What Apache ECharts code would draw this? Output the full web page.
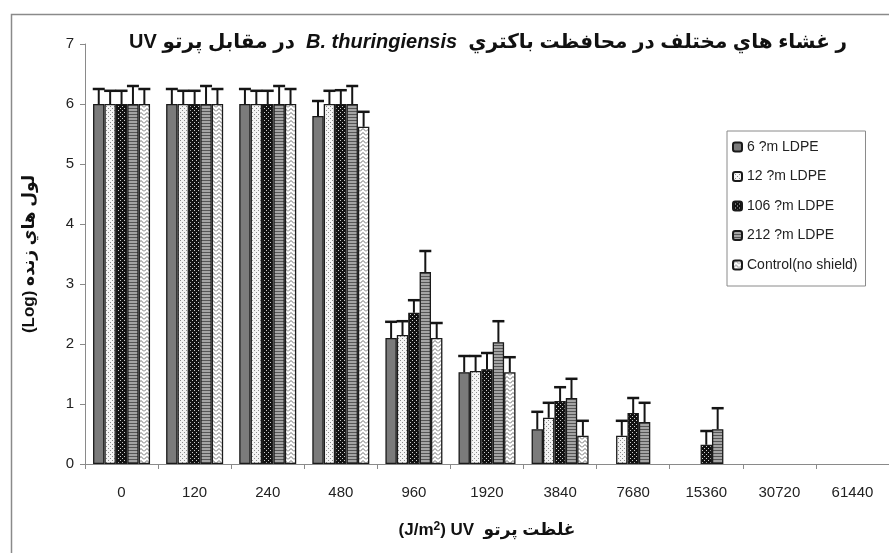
<!DOCTYPE html>
<html>
<head>
<meta charset="utf-8">
<script src="https://cdn.jsdelivr.net/npm/echarts@6/dist/echarts.min.js"></script>
<style>
  html, body { margin: 0; padding: 0; background: #fff; }
  #chart { width: 889px; height: 553px; }
</style>
</head>
<body>
<div id="chart"></div>
<script>
// doses (J/m2)
var categories = ['0', '120', '240', '480', '960', '1920', '3840', '7680', '15360', '30720', '61440'];
var seriesNames = ['6 ?m LDPE', '12 ?m LDPE', '106 ?m LDPE', '212 ?m LDPE', 'Control(no shield)'];

// log of living cells, one array per film
var ldpe6    = [6, 6, 6, 5.8, 2.1, 1.53, 0.58, null, null, null, null];
var ldpe12   = [6, 6, 6, 6, 2.15, 1.55, 0.77, 0.47, null, null, null];
var ldpe106  = [6, 6, 6, 6, 2.52, 1.58, 1.05, 0.85, 0.32, null, null];
var ldpe212  = [6, 6, 6, 6, 3.2, 2.03, 1.1, 0.7, 0.58, null, null];
var control  = [6, 6, 6, 5.62, 2.1, 1.53, 0.47, null, null, null, null];

// upper error bar sizes
var err6    = [0.25, 0.25, 0.25, 0.25, 0.27, 0.27, 0.29, null, null, null, null];
var err12   = [0.22, 0.22, 0.22, 0.22, 0.23, 0.25, 0.25, 0.25, null, null, null];
var err106  = [0.22, 0.22, 0.22, 0.23, 0.21, 0.27, 0.23, 0.25, 0.23, null, null];
var err212  = [0.3, 0.3, 0.3, 0.3, 0.35, 0.35, 0.32, 0.32, 0.35, null, null];
var errCtrl = [0.25, 0.25, 0.25, 0.25, 0.25, 0.25, 0.25, null, null, null, null];

var yTicks = [0, 1, 2, 3, 4, 5, 6, 7];

var values = [ldpe6, ldpe12, ldpe106, ldpe212, control];
var errors = [err6, err12, err106, err212, errCtrl];

var BAR_W = 11.4;

function makePattern(w, h, draw) {
    var c = document.createElement('canvas');
    c.width = w;
    c.height = h;
    var ctx = c.getContext('2d');
    draw(ctx);
    return { image: c, repeat: 'repeat' };
}

var fills = [
    '#7b7b7b',
    makePattern(4, 4, function (ctx) {
        ctx.fillStyle = '#f4f4f4';
        ctx.fillRect(0, 0, 4, 4);
        ctx.fillStyle = '#8c8c8c';
        ctx.fillRect(0, 0, 1, 1);
        ctx.fillRect(2, 2, 1, 1);
    }),
    makePattern(4, 4, function (ctx) {
        ctx.fillStyle = '#111';
        ctx.fillRect(0, 0, 4, 4);
        ctx.fillStyle = '#cfcfcf';
        ctx.fillRect(0, 0, 1, 1);
        ctx.fillRect(2, 2, 1, 1);
    }),
    makePattern(4, 3, function (ctx) {
        ctx.fillStyle = '#a4a4a4';
        ctx.fillRect(0, 0, 4, 3);
        ctx.fillStyle = '#555';
        ctx.fillRect(0, 0, 4, 1);
    }),
    makePattern(6, 4, function (ctx) {
        ctx.fillStyle = '#fff';
        ctx.fillRect(0, 0, 6, 4);
        ctx.strokeStyle = '#6f6f6f';
        ctx.lineWidth = 1;
        ctx.beginPath();
        ctx.moveTo(0, 3.5);
        ctx.lineTo(3, 0.5);
        ctx.lineTo(6, 3.5);
        ctx.stroke();
    })
];

var errData = [];
values.forEach(function (arr, s) {
    arr.forEach(function (v, i) {
        if (v != null && errors[s][i] != null) {
            errData.push([i, s, v, v + errors[s][i]]);
        }
    });
});

var series = seriesNames.map(function (name, s) {
    return {
        name: name,
        type: 'bar',
        barWidth: BAR_W,
        barGap: '0%',
        data: values[s],
        itemStyle: { color: fills[s], borderColor: '#1a1a1a', borderWidth: 1.3 }
    };
});

series.push({
    name: 'err',
    type: 'custom',
    z: 5,
    encode: { x: 0, y: [2, 3] },
    data: errData,
    renderItem: function (params, api) {
        var i = api.value(0), s = api.value(1);
        var lo = api.coord([i, api.value(2)]);
        var hi = api.coord([i, api.value(3)]);
        var x = lo[0] + (s - 2) * BAR_W;
        return {
            type: 'group',
            children: [
                { type: 'line', shape: { x1: x, y1: lo[1], x2: x, y2: hi[1] }, style: { stroke: '#151515', lineWidth: 2 } },
                { type: 'line', shape: { x1: x - 6, y1: hi[1], x2: x + 6, y2: hi[1] }, style: { stroke: '#151515', lineWidth: 2.5 } }
            ]
        };
    }
});

var font = 'Liberation Sans, Arial, DejaVu Sans, sans-serif';
var bold = { fontWeight: 'bold', color: '#111', fontFamily: font };

var option = {
    animation: false,
    backgroundColor: '#fff',
    textStyle: { fontFamily: font },
    title: {
        left: 483,
        top: 27,
        textAlign: 'center',
        text: '{a|\u202Bدر مقابل پرتو UV\u202C}{b|  B. thuringiensis  }{c|\u202Bر غشاء هاي مختلف در محافظت باكتري\u202C}',
        textStyle: {
            rich: {
                a: Object.assign({ fontSize: 20 }, bold),
                b: Object.assign({ fontSize: 20, fontStyle: 'italic' }, bold),
                c: Object.assign({ fontSize: 20 }, bold)
            }
        }
    },
    legend: {
        orient: 'vertical',
        left: 727,
        top: 131,
        data: seriesNames,
        itemWidth: 9,
        itemHeight: 9,
        itemGap: 15.5,
        padding: [9, 8, 14, 5],
        borderColor: '#8a8a8a',
        borderWidth: 1,
        backgroundColor: '#fff',
        textStyle: { fontSize: 14, color: '#222', fontFamily: font }
    },
    grid: { left: 85, top: 44, bottom: 89, width: 814 },
    xAxis: {
        type: 'category',
        data: categories,
        axisLine: { lineStyle: { color: '#8a8a8a', width: 1 } },
        axisTick: { show: true, length: 5, lineStyle: { color: '#8a8a8a' } },
        axisLabel: { fontSize: 15, color: '#222', margin: 21 },
        name: '{a|(J/m}{s|2}{a|) UV  }{c|\u202Bغلظت پرتو\u202C}',
        nameLocation: 'middle',
        nameGap: 57,
        nameTextStyle: {
            rich: {
                a: Object.assign({ fontSize: 17 }, bold),
                s: Object.assign({ fontSize: 12, verticalAlign: 'top', padding: [0, 0, 7, 0] }, bold),
                c: Object.assign({ fontSize: 17 }, bold)
            }
        }
    },
    yAxis: {
        type: 'value',
        min: 0,
        max: 7,
        interval: 1,
        axisLine: { show: true, lineStyle: { color: '#8a8a8a', width: 1 } },
        axisTick: { show: true, length: 5, lineStyle: { color: '#8a8a8a' } },
        splitLine: { show: false },
        axisLabel: {
            fontSize: 15, color: '#222', margin: 11,
            formatter: function (v) { return yTicks.indexOf(v) >= 0 ? String(v) : ''; }
        },
        name: '\u202Bلول هاي زنده (Log)\u202C',
        nameLocation: 'middle',
        nameRotate: 90,
        nameGap: 47,
        nameTextStyle: { fontSize: 17, fontWeight: 'bold', color: '#111' }
    },
    graphic: [{
        type: 'rect',
        left: 9,
        top: 12,
        shape: { width: 900, height: 600 },
        style: { fill: 'none', stroke: '#8a8a8a', lineWidth: 1.5 },
        silent: true
    }],
    series: series
};

var chart = echarts.init(document.getElementById('chart'));
chart.setOption(option);
</script>
</body>
</html>
